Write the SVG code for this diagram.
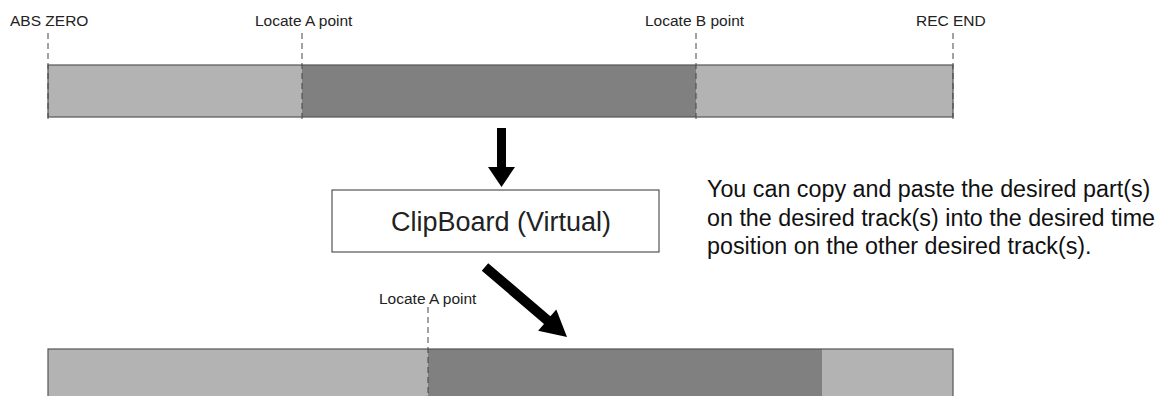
<svg xmlns="http://www.w3.org/2000/svg" width="1161" height="396" viewBox="0 0 1161 396">
<style>
.lbl{font-family:"Liberation Sans",Arial,sans-serif;font-size:15.5px;fill:#222}
.big{font-family:"Liberation Sans",Arial,sans-serif;font-size:27px;fill:#222}
.note{font-family:"Liberation Sans",Arial,sans-serif;font-size:23.3px;fill:#111}
.light{fill:#b3b3b3}
.dark{fill:#808080}
.edge{fill:none;stroke:#555;stroke-width:1.2}
.dash{stroke:#444;stroke-width:1;stroke-dasharray:6 4;fill:none}
.arrow{fill:#000}
</style>
<rect width="1161" height="396" fill="#fff"/>
<g id="top-bar">
<rect class="light" x="48" y="65" width="254" height="52"/>
<rect class="dark" x="302" y="65" width="394" height="52"/>
<rect class="light" x="696" y="65" width="257" height="52"/>
<rect class="edge" x="48" y="65" width="905" height="52"/>
</g>
<g id="marker-abs-zero">
<line class="dash" x1="48" y1="33" x2="48" y2="120"/>
<text class="lbl" x="10" y="26">ABS ZERO</text>
</g>
<g id="marker-locate-a">
<line class="dash" x1="302" y1="33" x2="302" y2="120"/>
<text class="lbl" x="255" y="26">Locate A point</text>
</g>
<g id="marker-locate-b">
<line class="dash" x1="696" y1="33" x2="696" y2="120"/>
<text class="lbl" x="645" y="26">Locate B point</text>
</g>
<g id="marker-rec-end">
<line class="dash" x1="953" y1="33" x2="953" y2="120"/>
<text class="lbl" x="916" y="26">REC END</text>
</g>
<g id="clipboard">
<rect x="332" y="190" width="327" height="62" fill="#fff" stroke="#333" stroke-width="1"/>
<text class="big" x="501" y="231" text-anchor="middle">ClipBoard (Virtual)</text>
</g>
<g id="note">
<text class="note" x="707" y="197">You can copy and paste the desired part(s)</text>
<text class="note" x="707" y="226">on the desired track(s) into the desired time</text>
<text class="note" x="707" y="254">position on the other desired track(s).</text>
</g>
<g id="bottom-bar">
<rect class="light" x="48" y="349" width="380" height="60"/>
<rect class="dark" x="428" y="349" width="394" height="60"/>
<rect class="light" x="822" y="349" width="131" height="60"/>
<rect class="edge" x="48" y="349" width="905" height="60"/>
</g>
<g id="marker-bottom-locate-a">
<line class="dash" x1="428" y1="307" x2="428" y2="396"/>
<text class="lbl" x="379" y="304">Locate A point</text>
</g>
<g id="connectors">
<polygon class="arrow" points="497,128 506,128 506,167 515,167 501.5,187 488,167 497,167"/>
<polygon class="arrow" points="488.2,263.2 550.4,316.3 556.3,309.4 567,337 538.1,330.8 544,323.9 481.8,270.8"/>
</g>
</svg>
